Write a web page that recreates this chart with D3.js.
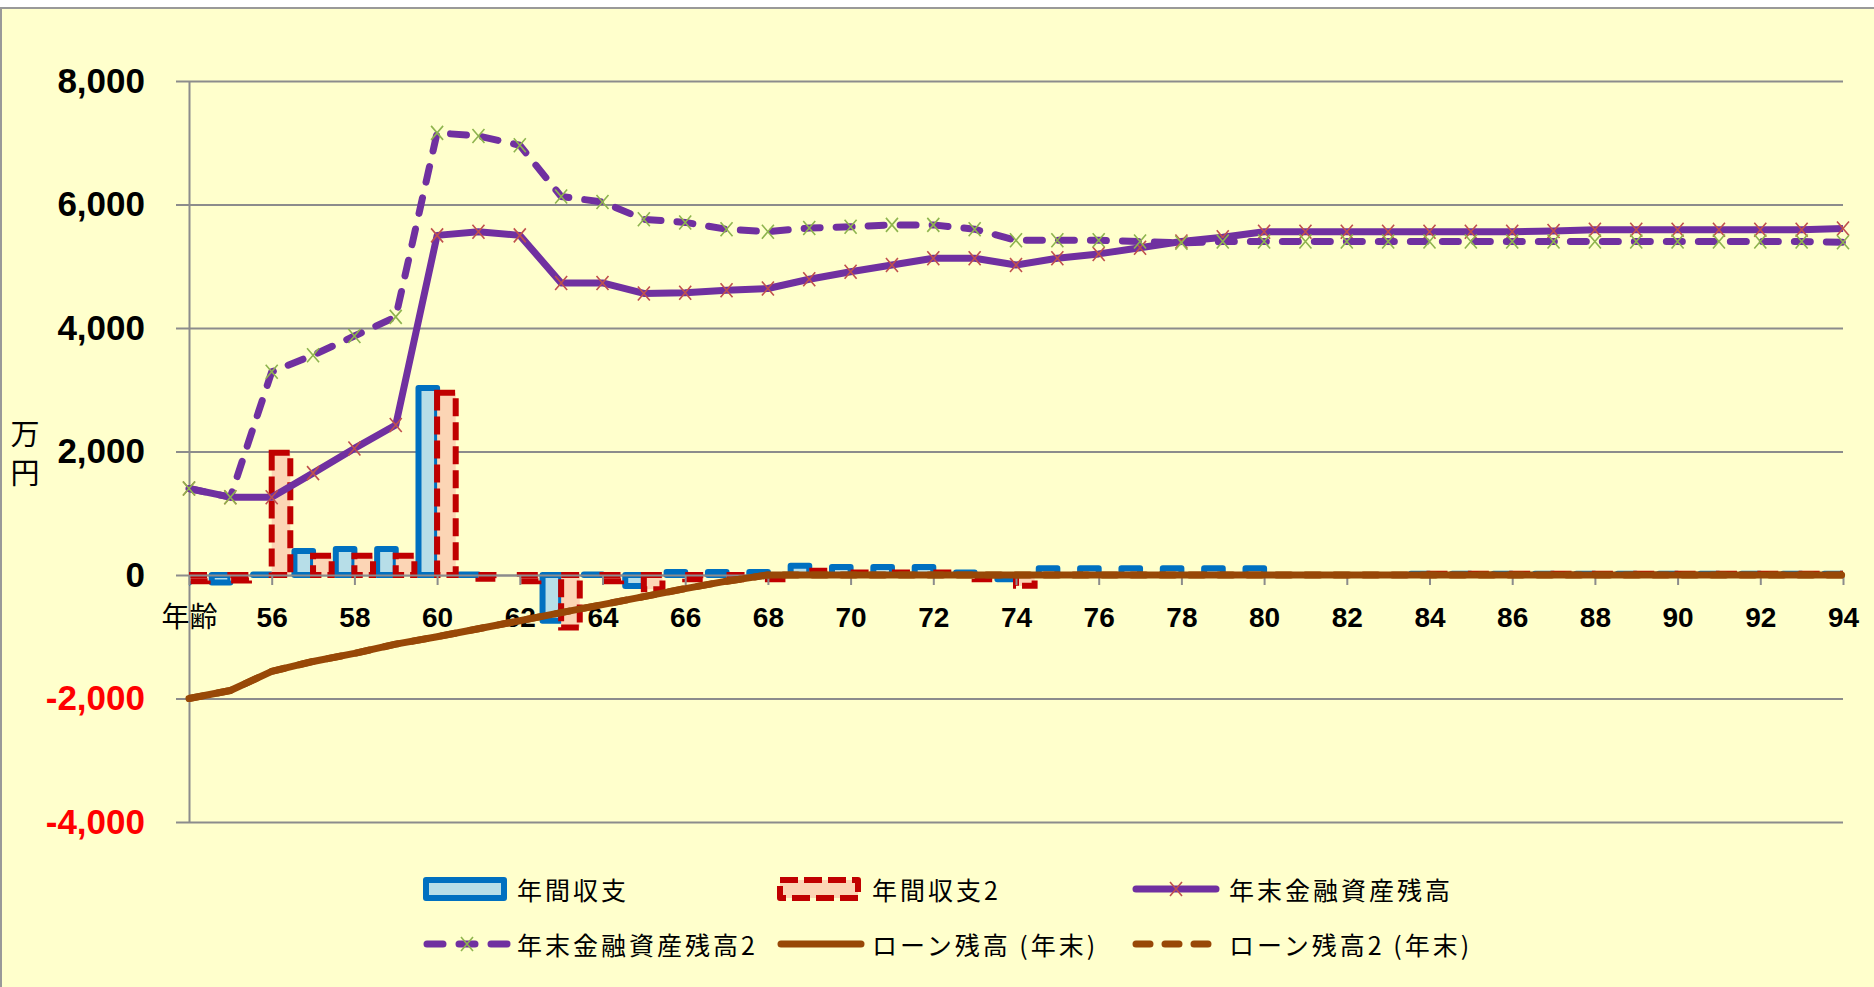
<!DOCTYPE html>
<html>
<head>
<meta charset="utf-8">
<script src="https://cdn.jsdelivr.net/npm/d3@7"></script>
<style>
body { margin: 0; background: #fff; }
</style>
</head>
<body>
<div id="chart"></div>
<script>
// categories (age) and tick labels
const ages = [54, 55, 56, 57, 58, 59, 60, 61, 62, 63, 64, 65, 66, 67, 68, 69, 70, 71, 72, 73, 74,
              75, 76, 77, 78, 79, 80, 81, 82, 83, 84, 85, 86, 87, 88, 89, 90, 91, 92, 93, 94];
const tickAges = [54, 56, 58, 60, 62, 64, 66, 68, 70, 72, 74, 76, 78, 80, 82, 84, 86, 88, 90, 92, 94];
const tickLabels = ["年齢", "56", "58", "60", "62", "64", "66", "68", "70", "72", "74",
                    "76", "78", "80", "82", "84", "86", "88", "90", "92", "94"];
const yTicks = [-4000, -2000, 0, 2000, 4000, 6000, 8000];

// 年間収支
const cashflow = [-120, -120, 10, 390, 420, 420, 3030, 10, 0, -740,
                  10, -180, 50, 50, 50, 150, 130, 130, 130, 40,
                  -70, 110, 110, 110, 110, 110, 110, 0, 0, 0,
                  20, 20, 20, 20, 20, 20, 20, 20, 20, 20, 20];
// 年間収支2
const cashflow2 = [-100, -90, 1980, 310, 310, 310, 2950, -60, -100, -850,
                   -100, -230, -70, -70, -70, 70, 40, 40, 40, -70,
                   -175, 0, 0, 0, 0, 0, 0, 0, 0, 0,
                   20, 20, 20, 20, 20, 20, 20, 20, 20, 20, 20];
// 年末金融資産残高
const assets = [1400, 1260, 1260, 1650, 2050, 2430, 5500, 5560, 5500, 4730,
                4730, 4560, 4570, 4610, 4640, 4790, 4910, 5020, 5130, 5130,
                5020, 5130, 5200, 5300, 5400, 5470, 5560, 5560, 5560, 5560,
                5560, 5560, 5560, 5570, 5590, 5590, 5590, 5590, 5590, 5590, 5610];
// 年末金融資産残高2
const assets2 = [1400, 1260, 3290, 3560, 3870, 4180, 7160, 7110, 6960, 6130,
                 6040, 5760, 5710, 5600, 5560, 5620, 5640, 5670, 5670, 5600,
                 5420, 5420, 5420, 5400, 5380, 5400, 5400, 5400, 5400, 5400,
                 5400, 5400, 5400, 5400, 5400, 5400, 5400, 5400, 5400, 5400, 5390];
// ローン残高 (年末)
const loan = [-2000, -1870, -1560, -1400, -1270, -1120, -1000, -870, -740, -610,
              -480, -350, -220, -100, 0, 0, 0, 0, 0, 0,
              0, 0, 0, 0, 0, 0, 0, 0, 0, 0,
              0, 0, 0, 0, 0, 0, 0, 0, 0, 0, 0];
// ローン残高2 (年末)
const loan2 = [-2000, -1870, -1560, -1400, -1270, -1120, -1000, -870, -740, -610,
               -480, -350, -220, -100, 0, 0, 0, 0, 0, 0,
               0, 0, 0, 0, 0, 0, 0, 0, 0, 0,
               0, 0, 0, 0, 0, 0, 0, 0, 0, 0, 0];

const width = 1874;
const height = 987;
const plotLeft = 189, plotRight = 1843, plotTop = 81, plotBottom = 822;
const jp = "'Noto Sans CJK JP', sans-serif";
const num = "'Liberation Sans', Arial, 'Noto Sans CJK JP', sans-serif";

const svg = d3.select("#chart")
    .append("svg")
    .attr("width", width)
    .attr("height", height)
    .style("display", "block");

// background
svg.append("rect").attr("width", width).attr("height", height).attr("fill", "#fff");
svg.append("rect").attr("x", 0).attr("y", 8).attr("width", width).attr("height", height - 8)
    .attr("fill", "#FFFFCC");
svg.append("line").attr("x1", 0).attr("x2", width).attr("y1", 8).attr("y2", 8)
    .attr("stroke", "#999").attr("stroke-width", 2);
svg.append("line").attr("x1", 1).attr("x2", 1).attr("y1", 8).attr("y2", height)
    .attr("stroke", "#999").attr("stroke-width", 2);

const xScale = d3.scalePoint().domain(ages).range([plotLeft, plotRight]);
const yScale = d3.scaleLinear().domain([-4000, 8000]).range([plotBottom, plotTop]);
const step = xScale.step();
const bw = step * 0.45;

// gridlines
const grid = svg.append("g")
    .attr("transform", "translate(176,0)")
    .call(d3.axisRight(yScale).tickValues(yTicks).tickSize(plotRight - 176).tickFormat(""));
grid.select(".domain").remove();
grid.selectAll("line").attr("stroke", "#8c8c8c").attr("stroke-width", 2);

// y axis
const fmt = d3.formatLocale({ decimal: ".", thousands: ",", grouping: [3], currency: ["", ""], minus: "-" }).format(",");
const yAxis = svg.append("g")
    .attr("transform", "translate(" + plotLeft + ",0)")
    .call(d3.axisLeft(yScale).tickValues(yTicks).tickSize(0).tickSizeOuter(0).tickPadding(44)
        .tickFormat(fmt));
yAxis.select(".domain").attr("stroke", "#8c8c8c").attr("stroke-width", 2);
yAxis.selectAll("text")
    .attr("font-family", num)
    .attr("font-size", 35)
    .attr("font-weight", "bold")
    .attr("fill", d => d < 0 ? "#FF0000" : "#000");

// y title
svg.append("text").attr("x", 25).attr("y", 445).attr("text-anchor", "middle")
    .attr("font-family", jp).attr("font-size", 29).text("万");
svg.append("text").attr("x", 25).attr("y", 484).attr("text-anchor", "middle")
    .attr("font-family", jp).attr("font-size", 29).text("円");

// bars
svg.append("clipPath").attr("id", "plot-clip")
    .append("rect").attr("x", plotLeft).attr("y", plotTop)
    .attr("width", plotRight - plotLeft).attr("height", plotBottom - plotTop);

const bars = svg.append("g").attr("clip-path", "url(#plot-clip)");

bars.selectAll("rect.bar1")
    .data(cashflow)
    .enter()
    .append("rect")
    .attr("class", "bar1")
    .attr("x", (d, i) => xScale(ages[i]) - bw)
    .attr("y", d => yScale(Math.max(d, 0)))
    .attr("width", bw)
    .attr("height", d => Math.abs(yScale(d) - yScale(0)))
    .attr("fill", "#B7DEE8")
    .attr("stroke", "#0070C0")
    .attr("stroke-width", 6)
    .attr("stroke-linejoin", "round");

bars.selectAll("rect.bar2")
    .data(cashflow2)
    .enter()
    .append("rect")
    .attr("class", "bar2")
    .attr("x", (d, i) => xScale(ages[i]))
    .attr("y", d => yScale(Math.max(d, 0)))
    .attr("width", bw)
    .attr("height", d => Math.abs(yScale(d) - yScale(0)))
    .attr("fill", "#FCD5B5")
    .attr("stroke", "#C00000")
    .attr("stroke-width", 6)
    .attr("stroke-dasharray", "18,6");

// x axis
const xAxis = svg.append("g")
    .attr("transform", "translate(0," + yScale(0) + ")")
    .call(d3.axisBottom(xScale).tickValues(tickAges).tickSize(10).tickSizeOuter(0).tickPadding(22)
        .tickFormat((d, i) => tickLabels[i]));
xAxis.select(".domain").attr("stroke", "#8c8c8c").attr("stroke-width", 2);
xAxis.selectAll("line").attr("stroke", "#8c8c8c").attr("stroke-width", 2);
xAxis.selectAll("text")
    .attr("font-family", num)
    .attr("font-size", 28)
    .attr("font-weight", (d, i) => i == 0 ? "normal" : "bold")
    .attr("fill", "#000");

// lines
const line = d3.line()
    .x((d, i) => xScale(ages[i]))
    .y(d => yScale(d));

const xMark = "M-6,-7L6,7M-6,7L6,-7";

function drawLine(values, color, dash, marker) {
    svg.append("path")
        .datum(values)
        .attr("d", line)
        .attr("fill", "none")
        .attr("stroke", color)
        .attr("stroke-width", 7)
        .attr("stroke-linejoin", "round")
        .attr("stroke-linecap", dash ? "round" : "butt")
        .attr("stroke-dasharray", dash);
    if (marker) {
        svg.append("g").selectAll("path")
            .data(values)
            .enter()
            .append("path")
            .attr("transform", (d, i) => "translate(" + xScale(ages[i]) + "," + yScale(d) + ")")
            .attr("d", xMark)
            .attr("stroke", marker)
            .attr("stroke-width", 1.6)
            .attr("fill", "none");
    }
}

drawLine(assets, "#7030A0", null, "#C0504D");
drawLine(assets2, "#7030A0", "16,16", "#8EB44E");
drawLine(loan, "#984807", null, null);
drawLine(loan2, "#984807", "14,15", null);

// legend
const legend = [
    { name: "年間収支", type: "bar", fill: "#B7DEE8", stroke: "#0070C0", dash: null, col: 0, row: 0 },
    { name: "年間収支2", type: "bar", fill: "#FCD5B5", stroke: "#C00000", dash: "18,6", col: 1, row: 0 },
    { name: "年末金融資産残高", type: "line", stroke: "#7030A0", dash: null, marker: "#C0504D", col: 2, row: 0 },
    { name: "年末金融資産残高2", type: "line", stroke: "#7030A0", dash: "16,16", marker: "#8EB44E", col: 0, row: 1 },
    { name: "ローン残高 (年末)", type: "line", stroke: "#984807", dash: null, marker: null, col: 1, row: 1 },
    { name: "ローン残高2 (年末)", type: "line", stroke: "#984807", dash: "14,15", marker: null, col: 2, row: 1 }
];
const legX = [423, 777, 1132];
const legTextX = [517, 872, 1229];
const legY = [889, 944];

legend.forEach(item => {
    const x0 = legX[item.col];
    const cy = legY[item.row];
    if (item.type == "bar") {
        svg.append("rect")
            .attr("x", x0 + 3).attr("y", cy - 9).attr("width", 78).attr("height", 18)
            .attr("fill", item.fill).attr("stroke", item.stroke).attr("stroke-width", 6)
            .attr("stroke-linejoin", "round")
            .attr("stroke-dasharray", item.dash);
    } else {
        svg.append("line")
            .attr("x1", x0 + 4).attr("x2", x0 + 84).attr("y1", cy).attr("y2", cy)
            .attr("stroke", item.stroke).attr("stroke-width", 7)
            .attr("stroke-linecap", "round")
            .attr("stroke-dasharray", item.dash);
        if (item.marker) {
            svg.append("path")
                .attr("transform", "translate(" + (x0 + 44) + "," + cy + ")")
                .attr("d", xMark).attr("stroke", item.marker).attr("stroke-width", 1.6);
        }
    }
    svg.append("text")
        .attr("x", legTextX[item.col]).attr("y", cy)
        .attr("dominant-baseline", "central")
        .attr("font-family", jp).attr("font-size", 25)
        .attr("letter-spacing", 3)
        .attr("fill", "#000")
        .text(item.name);
});
</script>
</body>
</html>
